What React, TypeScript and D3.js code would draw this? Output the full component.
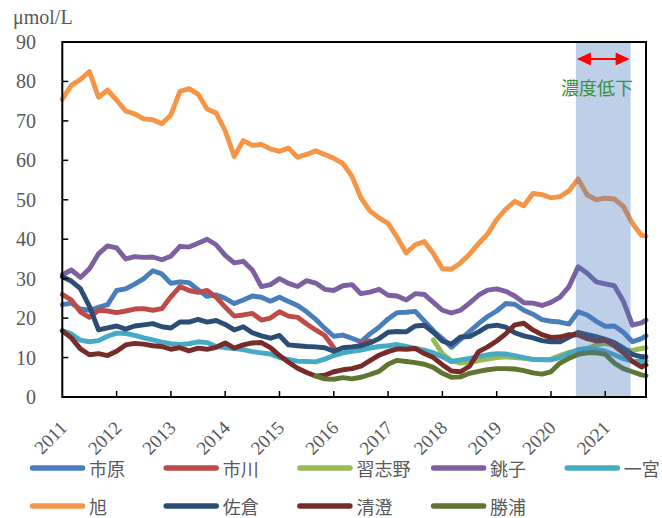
import * as d3 from 'd3'

const W = 662
const H = 518
const PLOT = { left: 62.3, right: 646, top: 42, bottom: 397 }

// months since Jan 2011, every 2 months, plus the last month (Oct 2021)
const MONTHS = [...d3.range(0, 130, 2), 129]
const YEARS = d3.range(2011, 2022)
const Y_TICKS = d3.range(0, 91, 10)
const SHADE = [113.5, 125.6]

const gap = (n: number) => Array(n).fill(null)

const ICHIHARA = [
  23.4, 23.8, 22.3, 22, 22.7, 23.4, 27, 27.4, 28.6, 30,
  32, 31.2, 28.8, 29.2, 29, 27.2, 25.5, 25.9, 25, 23.7,
  24.6, 25.6, 25.3, 24.3, 25.3, 24.2, 23.2, 21.6, 19.7, 17.4,
  15.4, 15.7, 14.9, 14, 16, 17.7, 19.8, 21.4, 21.5, 21.7,
  19.3, 16.8, 14.8, 12.6, 14.6, 16.6, 18.6, 20.4, 21.8, 23.7,
  23.5, 22, 21, 19.6, 19.2, 19, 18.5, 21.6, 20.8, 19.2,
  17.9, 18, 16.4, 14, 14.8, 15.5,
]
const ICHIKAWA = [
  26, 24.6, 21.6, 20.2, 22, 21.8, 21.4, 21.8, 22.3, 22.4,
  22, 22.4, 25.4, 28, 27, 26.5, 27, 25.3, 22.8, 20.5,
  20.8, 21.2, 19.5, 20, 21.6, 20.5, 20.2, 18.5, 17, 15.6,
  12.5, null, null, 13.6, 14.2, ...gap(31),
]
const NARASHINO = [
  ...gap(41),
  14.5, 11, 9.2, 8.6, 8.8, 9.2, 9.6, 10, 10.2, 10,
  9.8, 9.6, 9.5, 9.6, 10.5, 11.3, 11.8, 12.3, 13.2, 13.6,
  13, 12, 11.8, 12.3, 12.5,
]
const CHOSHI = [
  31, 32.2, 30.3, 32.5, 36.3, 38.3, 37.8, 35, 35.6, 35.4,
  35.5, 34.8, 35.7, 38.2, 38, 39, 40, 38.6, 35.9, 34,
  34.4, 32.2, 28, 28.5, 30, 28.8, 28, 29.5, 28.9, 27.3,
  27, 28.2, 28.5, 26.2, 26.6, 27.3, 25.8, 25.6, 24.6, 26.2,
  26, 24, 22, 21.3, 22, 23.8, 25.8, 27.1, 27.4, 26.8,
  25.6, 23.9, 23.8, 23.2, 24, 25.3, 28, 33, 31.4, 29.2,
  28.7, 28.2, 24.3, 18.2, 18.8, 19.5,
]
const ICHINOMIYA = [
  16.8, 16, 14.4, 14, 14.3, 15.4, 16.2, 16.1, 15.6, 15,
  14.5, 13.9, 13.5, 13.3, 13.5, 14, 13.8, 12.8, 12.5, 12.3,
  12, 11.5, 11.2, 10.9, 10, 9.5, 9.1, 9, 8.9, 9.6,
  10.5, 11.2, 11.6, 11.9, 12.4, 12.8, 13, 13.3, 12.8, 12.3,
  11.9, 11.2, 10.2, 9, 9.4, 9.8, 10.3, 10.7, 11, 10.9,
  10.5, 10, 9.5, 9.4, 9.4, 10, 11, 12, 12.3, 12.1,
  11.6, 10.7, 9.7, 9.1, 9, 9.2,
]
const ASAHI = [
  75.5, 79, 80.5, 82.5, 76, 77.8, 75.3, 72.5, 71.8, 70.5,
  70.3, 69.3, 71.5, 77.5, 78.2, 76.8, 73, 72, 67.5, 61,
  65, 63.8, 64, 62.9, 62.3, 63.1, 60.8, 61.5, 62.4, 61.5,
  60.5, 59.2, 56, 50.5, 47.2, 45.4, 44, 40.5, 36.5, 38.6,
  39.4, 36.4, 32.5, 32.4, 34, 36.2, 38.9, 41.3, 45, 47.6,
  49.6, 48.5, 51.6, 51.3, 50.5, 50.8, 52.3, 55.3, 51.2, 50,
  50.4, 50.2, 48.3, 44, 41, 40.8,
]
const SAKURA = [
  30.5, 29.4, 27.5, 23, 17, 17.5, 18, 17.2, 18, 18.3,
  18.6, 17.8, 17.5, 19, 19, 19.7, 19, 19.4, 18.4, 17,
  17.8, 16.3, 15.5, 14.9, 15.6, 13.2, 13, 12.8, 12.7, 12.5,
  11.6, 12.5, 12.7, 13, 13.7, 14.8, 16.4, 16.6, 16.5, 18,
  18.2, 16.4, 14.2, 13.4, 15.2, 15.3, 16.5, 17.9, 18.2, 17.7,
  16.3, 15.5, 15, 14.3, 14, 14, 15.2, 16.4, 15.8, 15.3,
  14.6, 13.8, 12.4, 10.8, 10.2, 10.2,
]
const KIYOSUMI = [
  16.8, 15, 12.2, 10.7, 11, 10.5, 11.6, 13.2, 13.6, 13.4,
  13, 12.8, 12.1, 12.5, 11.7, 12.4, 12.1, 12.6, 13.7, 12.4,
  13.2, 13.7, 13.8, 12.5, 10.5, 8.8, 7.3, 6.2, 5.3, 5.5,
  6.4, 6.9, 7.2, 7.8, 9.2, 10.6, 11.5, 12.2, 12.1, 12.3,
  11, 10, 8.2, 6.6, 6.4, 7.8, 11.5, 12.7, 14.2, 16,
  18.3, 18.7, 17, 15.8, 15.1, 15.2, 15.8, 15.7, 14.8, 14.2,
  14.4, 13, 11.2, 9, 7.6, 8.1,
]
const KATSUURA = [
  ...gap(28),
  5.3, 4.6, 4.5, 4.9, 4.6, 5, 5.7, 6.5, 8.3, 9.3,
  9, 8.7, 8.3, 7.5, 6, 5, 5.1, 6, 6.5, 6.9,
  7.2, 7.2, 7.1, 6.7, 6.1, 5.8, 6.4, 8.6, 9.8, 10.8,
  11.2, 11.2, 10.8, 8.6, 7.2, 6.4, 5.6, 5.4,
]

const NAMES = ['市原', '市川', '習志野', '銚子', '一宮', '旭', '佐倉', '清澄', '勝浦']
const COLORS = ['#4a7ebb', '#be4b48', '#98b954', '#7d60a0', '#46aac5', '#f69545', '#2c4d75', '#772c2a', '#5f7530']
const VALUES = [ICHIHARA, ICHIKAWA, NARASHINO, CHOSHI, ICHINOMIYA, ASAHI, SAKURA, KIYOSUMI, KATSUURA]

const GREY = '#595959'
const SERIF = '"Liberation Serif", "DejaVu Serif", serif'
const JP = '"Noto Sans CJK JP", "Noto Sans", sans-serif'

export default function App() {
  const x = d3.scaleLinear().domain([0, 129]).range([PLOT.left, PLOT.right])
  const y = d3.scaleLinear().domain([0, 90]).range([PLOT.bottom, PLOT.top])

  const line = d3
    .line<[number, number | null]>()
    .defined((d) => d[1] != null)
    .x((d) => x(d[0]))
    .y((d) => y(d[1] as number))

  const shadeX0 = x(SHADE[0])
  const shadeX1 = x(SHADE[1])
  const arrowY = 59

  return (
    <svg width={W} height={H} style={{ position: 'absolute', left: 0, top: 0, background: '#fff' }}>
      <rect width={W} height={H} fill="#fff" />

      {/* series */}
      <g fill="none" strokeLinejoin="round" strokeLinecap="round">
        {VALUES.map((vals, i) => (
          <path
            key={NAMES[i]}
            d={line(MONTHS.map((m, j) => [m, vals[j]]) as [number, number | null][]) || ''}
            stroke={COLORS[i]}
            strokeWidth={4.9}
          />
        ))}
      </g>

      {/* shaded period */}
      <rect
        x={shadeX0}
        y={PLOT.top}
        width={shadeX1 - shadeX0}
        height={PLOT.bottom - PLOT.top}
        fill="rgb(69,121,189)"
        opacity={0.35}
      />

      {/* frame */}
      <rect
        x={PLOT.left}
        y={PLOT.top}
        width={PLOT.right - PLOT.left}
        height={PLOT.bottom - PLOT.top}
        fill="none"
        stroke="#000"
        strokeWidth={2}
      />

      {/* y axis */}
      {Y_TICKS.map((t) => (
        <g key={t}>
          <line x1={PLOT.left} x2={PLOT.left + 6} y1={y(t)} y2={y(t)} stroke="#000" strokeWidth={1.5} />
          <text
            x={36}
            y={y(t)}
            textAnchor="end"
            dominantBaseline="central"
            fontFamily={SERIF}
            fontSize={20}
            fill={GREY}
          >
            {t}
          </text>
        </g>
      ))}
      <text x={13} y={24} fontFamily={SERIF} fontSize={20} fill={GREY}>
        μmol/L
      </text>

      {/* x axis */}
      {YEARS.map((yr, i) => {
        const tx = x(i * 12)
        return (
          <g key={yr}>
            {i > 0 && (
              <line x1={tx} x2={tx} y1={PLOT.bottom} y2={PLOT.bottom - 6} stroke="#000" strokeWidth={1.5} />
            )}
            <text
              transform={`translate(${tx + 6},${429}) rotate(-45)`}
              textAnchor="end"
              fontFamily={SERIF}
              fontSize={19}
              fill={GREY}
            >
              {yr}
            </text>
          </g>
        )
      })}

      {/* annotation */}
      <g>
        <line x1={shadeX0 + 12} x2={shadeX1 - 12} y1={arrowY} y2={arrowY} stroke="#ff0000" strokeWidth={2} />
        <path
          d={`M${shadeX0 + 1},${arrowY} L${shadeX0 + 15},${arrowY - 6.5} L${shadeX0 + 15},${arrowY + 6.5} Z`}
          fill="#ff0000"
        />
        <path
          d={`M${shadeX1 - 1},${arrowY} L${shadeX1 - 15},${arrowY - 6.5} L${shadeX1 - 15},${arrowY + 6.5} Z`}
          fill="#ff0000"
        />
        <text
          x={597}
          y={87}
          textAnchor="middle"
          dominantBaseline="central"
          fontFamily={JP}
          fontSize={18}
          fill="#3a8f3a"
        >
          濃度低下
        </text>
      </g>

      {/* legend */}
      {NAMES.map((name, i) => {
        const col = i % 5
        const row = Math.floor(i / 5)
        const lx = 30 + col * 133.7
        const ly = 468 + row * 38
        return (
          <g key={name}>
            <line
              x1={lx + 2.5}
              x2={lx + 52.5}
              y1={ly}
              y2={ly}
              stroke={COLORS[i]}
              strokeWidth={5.5}
              strokeLinecap="round"
            />
            <text x={lx + 59} y={ly} dominantBaseline="central" fontFamily={JP} fontSize={18} fill={GREY}>
              {name}
            </text>
          </g>
        )
      })}
    </svg>
  )
}
